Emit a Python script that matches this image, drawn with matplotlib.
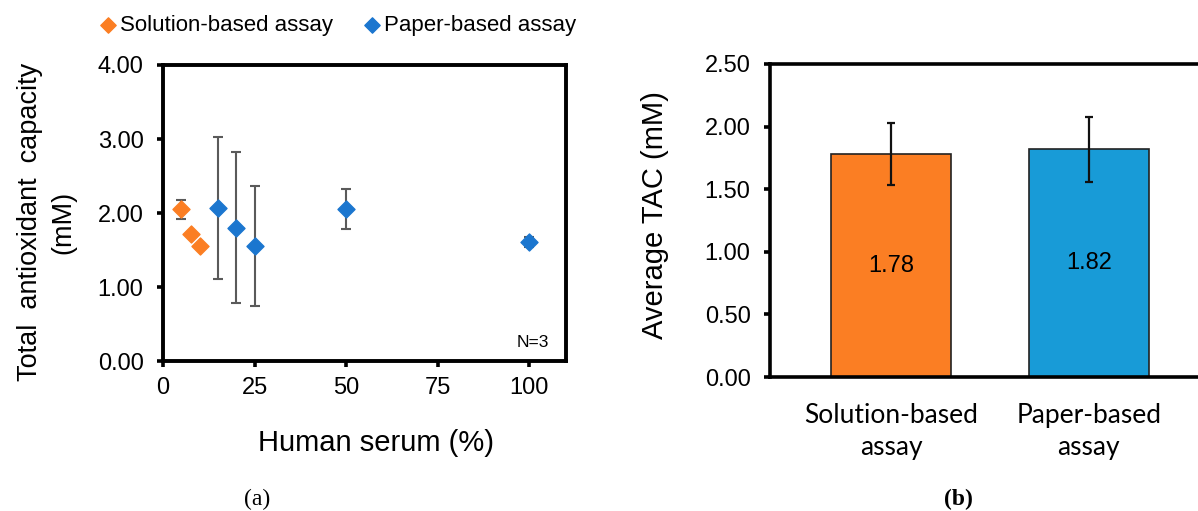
import numpy as np
import matplotlib
matplotlib.use("Agg")
import matplotlib.pyplot as plt

# ==========================================
# datos
# ==========================================
sol_x = [5, 7.5, 10]
sol_y = [2.05, 1.71, 1.56]
sol_err = [0.13, 0, 0]

pap_x = [15, 20, 25, 50, 100]
pap_y = [2.07, 1.80, 1.56, 2.05, 1.61]
pap_err = [0.96, 1.02, 0.81, 0.27, 0.07]

bar_labels = ["Solution-based\nassay", "Paper-based\nassay"]
bar_vals = [1.78, 1.82]
bar_err = [0.25, 0.26]

ORANGE = "#FB7E23"
BLUE_PT = "#1B76CF"
BLUE_BAR = "#189BD7"

plt.rcParams['font.family'] = ['Liberation Sans', 'DejaVu Sans']

fig = plt.figure(figsize=(11.98, 5.11), dpi=100)

# ---------- (a) dispersion ----------
ax1 = fig.add_axes([0.1361, 0.2935, 0.3364, 0.5793])
ax1.errorbar(sol_x, sol_y, yerr=sol_err, fmt='none', ecolor='#5a5a5a',
             elinewidth=1.5, capsize=3.6, capthick=1.5, zorder=2)
ax1.errorbar(pap_x, pap_y, yerr=pap_err, fmt='none', ecolor='#5a5a5a',
             elinewidth=1.5, capsize=3.6, capthick=1.5, zorder=2)
h1 = ax1.scatter(sol_x, sol_y, marker='D', s=75, color=ORANGE, zorder=3,
                 label='Solution-based assay')
h2 = ax1.scatter(pap_x, pap_y, marker='D', s=75, color=BLUE_PT, zorder=3,
                 label='Paper-based assay')
ax1.set_xlim(0, 110)
ax1.set_ylim(0, 4)
ax1.set_xticks([0, 25, 50, 75, 100])
ax1.set_yticks([0, 1, 2, 3, 4])
ax1.set_yticklabels([f"{v:.2f}" for v in [0, 1, 2, 3, 4]])
ax1.tick_params(axis='y', labelsize=17, width=2.6, length=4.5, direction='out', pad=9.5)
ax1.tick_params(axis='x', labelsize=17, width=2.6, length=4.5, direction='out', pad=7)
for sp in ax1.spines.values():
    sp.set_linewidth(2.8)
fig.text(376.5 / 1198, 1 - 443 / 511, "Human serum (%)", fontsize=21,
         ha='center', va='center')
fig.text(46.5 / 1198, 1 - 222 / 511, "Total  antioxidant  capacity\n(mM)",
         fontsize=19.5, rotation=90, ha='center', va='center',
         linespacing=1.38, multialignment='center')
ax1.text(0.958, 0.061, "N=3", transform=ax1.transAxes, ha='right', va='center',
         fontsize=12.5)
fig.legend(handles=[h1, h2], loc='center', bbox_to_anchor=(0.2819, 0.951),
           ncol=2, frameon=False, fontsize=16, handletextpad=0.15,
           columnspacing=1.35, handlelength=0.8, markerscale=0.9,
           borderpad=0, borderaxespad=0)
fig.text(257 / 1198, 0.022, "(a)", family=['Liberation Serif'], fontsize=17,
         ha='center', va='center')

# ---------- (b) barras ----------
ax2 = fig.add_axes([0.6427, 0.2622, 0.3673, 0.6126])
pos = np.arange(len(bar_vals))
bars = ax2.bar(pos, bar_vals, width=0.608, color=[ORANGE, BLUE_BAR],
               edgecolor='#222222', linewidth=1.2, zorder=2)
ax2.errorbar(pos, bar_vals, yerr=bar_err, fmt='none', ecolor='#111111',
             elinewidth=1.6, capsize=3, capthick=1.6, zorder=3)
ax2.bar_label(bars, labels=[f"{v:.2f}" for v in bar_vals], label_type='center',
              fontsize=17)
ax2.set_xlim(-0.613, 1.613)
ax2.set_ylim(0, 2.5)
ax2.set_yticks(np.arange(0, 2.51, 0.5))
ax2.set_yticklabels([f"{v:.2f}" for v in np.arange(0, 2.51, 0.5)])
ax2.set_xticks(pos)
ax2.set_xticklabels(bar_labels, family=['Lato', 'DejaVu Sans'], fontsize=19,
                    linespacing=1.35)
ax2.tick_params(axis='y', labelsize=17, width=2.6, length=4.5, direction='out', pad=9.5)
ax2.tick_params(axis='x', length=0, pad=19)
for sp in ax2.spines.values():
    sp.set_linewidth(2.6)
ax2.spines['right'].set_visible(False)  # recortado en la figura original
fig.text(655 / 1198, 1 - 215 / 511, "Average TAC (mM)", fontsize=21,
         rotation=90, ha='center', va='center')
fig.text(958 / 1198, 0.022, "(b)", family=['Liberation Serif'], fontsize=17,
         fontweight='bold', ha='center', va='center')

fig.savefig("out.png", dpi=100)
